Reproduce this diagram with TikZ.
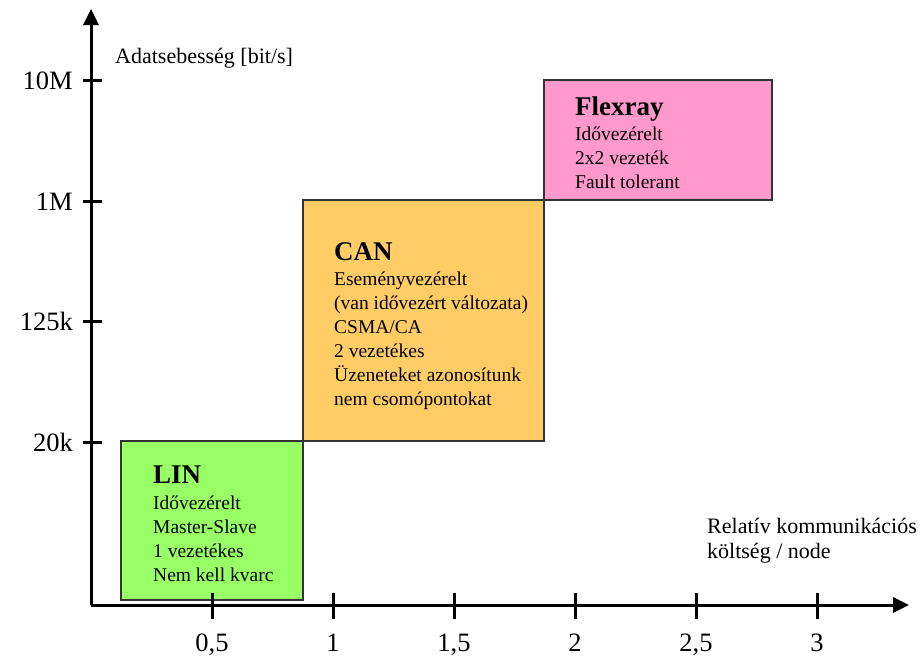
\documentclass[tikz,border=0pt]{standalone}
\usepackage{fontspec}
\setmainfont{Liberation Serif}
\usetikzlibrary{arrows.meta}

\newcommand{\lines}[1]{\begin{tabular}[t]{@{}l@{}}#1\end{tabular}}

\tikzset{
  axis/.style={line width=3pt, -{Triangle[length=16pt,width=15pt]}},
  tickmark/.style={line width=3pt},
  band/.style={draw=black!80, line width=1.2pt},
  title/.style={anchor=base west, inner sep=0pt, font=\fontsize{27}{30}\selectfont\bfseries},
  body/.style={anchor=base west, inner sep=0pt, font=\fontsize{19.5}{24}\selectfont},
  axlabel/.style={anchor=base west, inner sep=0pt, font=\fontsize{22}{25}\selectfont},
  ylab/.style={anchor=base east, inner sep=0pt, font=\fontsize{26.5}{30}\selectfont},
  xlab/.style={anchor=base, inner sep=0pt, font=\fontsize{26.5}{30}\selectfont}
}

\begin{document}
\begin{tikzpicture}[x=1pt, y=-1pt]
\useasboundingbox (0,0) rectangle (924,657);

% protocol bands
\path[band, fill={rgb,255:red,153;green,255;blue,102}] (121,441) rectangle (303,600);
\path[band, fill={rgb,255:red,255;green,204;blue,102}] (303,200) rectangle (544,441);
\path[band, fill={rgb,255:red,255;green,153;blue,204}] (544,80) rectangle (772,200);

% axes
\coordinate (o) at (91,605);
\coordinate (ytip) at (91,9);
\coordinate (xtip) at (909,605);
\draw[axis] (o) -- (ytip);
\draw[axis] (o) -- (xtip);

% y ticks
\foreach \y/\t in {80/10M, 201/1M, 321/125k, 442/20k} {
  \draw[tickmark] (83,\y) -- (102,\y);
  \node[ylab] at (73,\y+9.5) {\t};
}

% x ticks
\foreach \x/\t in {212/{0,5}, 333/1, 454/{1,5}, 575/2, 696/{2,5}, 817/3} {
  \draw[tickmark] (\x,593) -- (\x,619);
  \node[xlab] at (\x,651) {\t};
}

% axis labels
\node[axlabel] (ylabel) at (115,63) {Adatsebesség [bit/s]};
\node[axlabel] (xlabel) at (707,533) {\lines{Relatív kommunikációs\\költség / node}};

% LIN
\node[title] (lin) at (153,483) {LIN};
\node[body] (linbody) at (153,509) {\lines{Idővezérelt\\Master-Slave\\1 vezetékes\\Nem kell kvarc}};

% CAN
\node[title] (can) at (334,260) {CAN};
\node[body] (canbody) at (334,285) {\lines{Eseményvezérelt\\(van idővezért változata)\\CSMA/CA\\2 vezetékes\\Üzeneteket azonosítunk\\nem csomópontokat}};

% Flexray
\node[title] (flex) at (575,115) {Flexray};
\node[body] (flexbody) at (575,140) {\lines{Idővezérelt\\2x2 vezeték\\Fault tolerant}};
\end{tikzpicture}
\end{document}
